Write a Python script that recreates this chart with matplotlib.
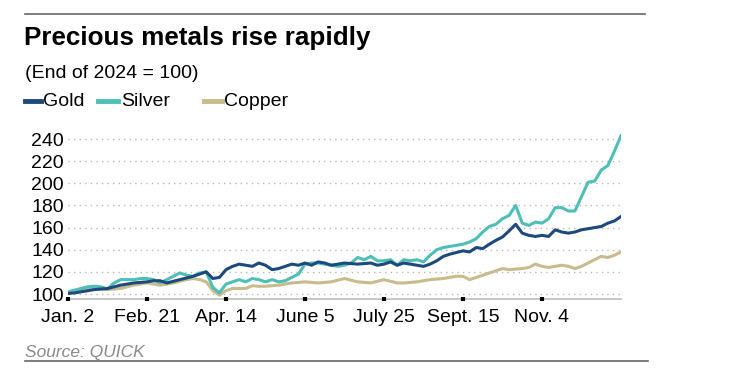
import numpy as np
import matplotlib.pyplot as plt
from matplotlib.lines import Line2D

# index values (End of 2024 = 100), sampled roughly every 3 trading days
gold = [100.5, 101, 102, 103, 104, 104.5, 105, 106.5, 108, 109,
        110, 110.5, 111, 112, 112, 110, 111.5, 113, 114.5, 116,
        118, 120, 114, 115, 122, 125, 127, 126, 125, 128,
        126, 122, 123, 125, 127, 126, 128, 126, 129, 128,
        126, 127, 128, 127.5, 127, 127.5, 128, 126, 127, 129,
        126, 128, 127, 126, 125, 127, 130, 134, 136, 137.5,
        139, 138, 142, 141, 145, 148.5, 151.5, 157, 163, 155,
        153, 152, 153, 152, 158, 156, 155, 156, 158, 159,
        160, 161, 164, 166, 170]
silver = [102, 103.5, 105, 106.5, 107, 106.5, 104.5, 110, 113, 113,
          113, 114, 114, 113, 110, 113, 116, 119, 117, 116,
          119, 120, 106, 101, 109, 111, 113, 111, 114, 113,
          111, 113, 111, 112, 115, 118, 127, 128, 128, 127,
          126, 125, 126, 128, 133, 131, 134, 130, 130, 131,
          126, 131, 130, 131, 129, 135, 140, 142, 143, 144,
          145, 147, 150, 156, 161, 163, 168, 171, 180, 164,
          162, 165, 164, 168, 178, 178, 175, 175, 188, 201,
          202, 212, 216, 229, 243]
copper = [101, 102.5, 104, 104.5, 105, 104.5, 104, 104.5, 105, 106.5,
          108, 109, 110, 109, 108, 109, 110, 111.5, 113, 114,
          113, 111, 103, 99, 103, 105, 105, 105, 107.5, 107,
          107, 107.5, 108, 109, 110, 110.5, 111, 110.5, 110, 110.5,
          111, 112.5, 114, 112.5, 111, 110.5, 110, 111.5, 113, 111.5,
          110, 110, 110.5, 111, 112, 113, 113.5, 114, 115, 116,
          116, 113, 115, 117, 119, 121, 123, 122, 122.5, 123,
          124, 127, 125, 124, 125, 126, 125, 123, 125, 128,
          131, 134, 133, 135, 138]

tick_pos = [0, 12, 24, 36, 48, 60, 72]
tick_labels = ['Jan. 2', 'Feb. 21', 'Apr. 14', 'June 5', 'July 25', 'Sept. 15', 'Nov. 4']
yticks = [100, 120, 140, 160, 180, 200, 220, 240]

c_gold = '#1d4a7c'
c_silver = '#4dbfb6'
c_copper = '#c8bb8c'

plt.rcParams['font.family'] = ['Liberation Sans', 'DejaVu Sans']

fig = plt.figure(figsize=(7.4, 3.77), dpi=100)
ax = fig.add_axes([68/740, 1 - 299/377, (621 - 68)/740, (299 - 133.5)/377])

x = np.arange(len(gold))
ax.plot(x, copper, color=c_copper, lw=2.2, solid_joinstyle='round')
ax.plot(x, silver, color=c_silver, lw=2.2, solid_joinstyle='round')
ax.plot(x, gold, color=c_gold, lw=2.2, solid_joinstyle='round')

ax.set_xlim(0, 84)
ax.set_ylim(95.5, 245)
ax.set_yticks(yticks)
ax.set_xticks(tick_pos)
ax.set_xticklabels(tick_labels)
ax.yaxis.grid(True, color='#b8b8b8', linestyle=(0, (1, 3)), lw=1)
ax.set_axisbelow(True)

for s in ['top', 'right', 'left']:
    ax.spines[s].set_visible(False)
ax.spines['bottom'].set_color('#bdbdbd')
ax.spines['bottom'].set_linewidth(1.2)
ax.spines['bottom'].set_zorder(0.2)

ax.tick_params(axis='y', length=0, labelsize=14, pad=3, colors='black')
ax.tick_params(axis='x', length=3, width=3, direction='inout', colors='black',
               labelsize=14, pad=6)

# header
fig.add_artist(Line2D([25/740, 645/740], [1 - 14/377, 1 - 14/377],
                      color='#666666', lw=1.2))
fig.text(24/740, 1 - 38.5/377, 'Precious metals rise rapidly', fontsize=18.7,
         fontweight='bold', va='center', ha='left')
fig.text(25/740, 1 - 74/377, '(End of 2024 = 100)', fontsize=14,
         va='center', ha='left')

# legend
leg_y = 1 - 101/377
for x0, x1, tx, lab, col in [(25, 41, 43, 'Gold', c_gold),
                             (98, 118, 121, 'Silver', c_silver),
                             (204, 222, 224, 'Copper', c_copper)]:
    fig.add_artist(Line2D([x0/740, x1/740], [leg_y, leg_y], color=col, lw=3.5))
    fig.text(tx/740, leg_y, lab, fontsize=14, va='center', ha='left')

# footer
fig.text(25/740, 1 - 352/377, 'Source: QUICK', fontsize=12.5, style='italic',
         color='#8a8a8a', va='center', ha='left')
fig.add_artist(Line2D([25/740, 648/740], [1 - 361/377, 1 - 361/377],
                      color='#666666', lw=1.2))

plt.savefig('out.png', dpi=100)
